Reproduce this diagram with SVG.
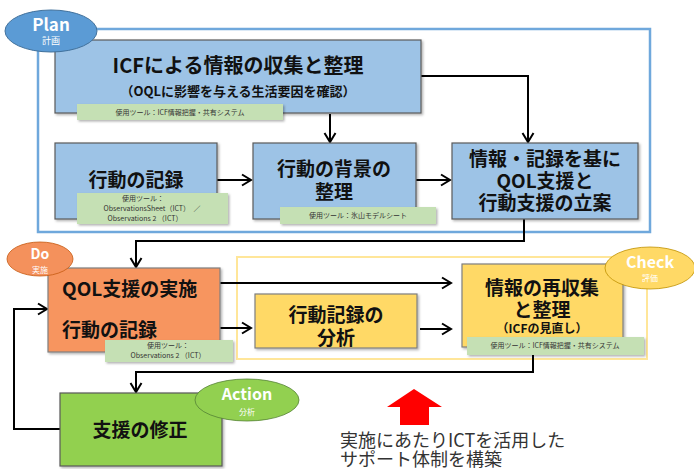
<svg xmlns="http://www.w3.org/2000/svg" width="694" height="469" viewBox="0 0 694 469">
<defs>
<marker id="ah" markerUnits="userSpaceOnUse" markerWidth="14" markerHeight="14" refX="11" refY="7" orient="auto">
<path d="M2,1.5 L11,7 L2,12.5" fill="none" stroke="#000" stroke-width="2"/>
</marker>
<filter id="sh" x="-10%" y="-20%" width="130%" height="160%">
<feDropShadow dx="1.5" dy="1.5" stdDeviation="1" flood-color="#000" flood-opacity="0.3"/>
</filter>
</defs>
<style>
text{font-family:"Noto Sans CJK JP","Noto Sans",sans-serif;dominant-baseline:central;text-anchor:middle;fill:#111}
.t{font-size:19px;font-weight:bold}
.s{font-size:13px;font-weight:bold}
.tool{font-size:7px;fill:#333}
.blue{fill:#9dc3e6;stroke:#5a5a5a;stroke-width:1.2}
.green{fill:#c5e0b4;filter:url(#sh)}
.orange{fill:#f7955f;stroke:#7f7f7f;stroke-width:1.2}
.yellow{fill:#ffd966;stroke:#7f7f7f;stroke-width:1.2}
.lime{fill:#92d050;stroke:#595959;stroke-width:1.2}
.conn path{fill:none;stroke:#000;stroke-width:2;marker-end:url(#ah)}
.lbl{fill:#fff;font-weight:bold}
.sub{fill:#fff;font-size:9px}
.note{text-anchor:start;font-size:18px;fill:#333}
</style>

<rect x="38" y="29" width="612" height="203" fill="none" stroke="#6fa8dc" stroke-width="2.5"/>
<rect x="237" y="257" width="410" height="102" fill="none" stroke="#ffe699" stroke-width="2"/>

<g id="connectors" class="conn">
<path d="M330,114 V142"/>
<path d="M421,76 H528 V142"/>
<path d="M217,180 H251"/>
<path d="M416,180 H450"/>
<path d="M524,219 V241 H136 V267"/>
<path d="M216,283 H451"/>
<path d="M165,328 H251"/>
<path d="M420,329 H451"/>
<path d="M533,355 V372 H136 V392"/>
<path d="M60,429 H14 V309 H47"/>
</g>

<g id="icf-collect">
<rect class="blue" x="55" y="40" width="366" height="73" filter="url(#sh)"/>
<text class="t" x="238" y="64" style="font-size:20px">ICFによる情報の収集と整理</text>
<text class="s" x="238" y="90">（OQLに影響を与える生活要因を確認）</text>
<rect class="green" x="77" y="104" width="206" height="16"/>
<text class="tool" x="180" y="112">使用ツール：ICF情報把握・共有システム</text>
</g>

<g id="behavior-record">
<rect class="blue" x="55" y="143" width="162" height="76" filter="url(#sh)"/>
<text class="t" x="136" y="178">行動の記録</text>
<rect class="green" x="77" y="193" width="151" height="31"/>
<text class="tool" x="143" y="198">使用ツール：</text>
<text class="tool" x="152" y="208">ObservationsSheet（ICT）　／</text>
<text class="tool" x="145" y="218">Observations 2 （ICT）</text>
</g>

<g id="behavior-background">
<rect class="blue" x="253" y="143" width="163" height="76" filter="url(#sh)"/>
<text class="t" x="334" y="167">行動の背景の</text>
<text class="t" x="334" y="190">整理</text>
<rect class="green" x="280" y="207" width="156" height="17"/>
<text class="tool" x="358" y="215">使用ツール：氷山モデルシート</text>
</g>

<g id="planning">
<rect class="blue" x="452" y="143" width="186" height="76" filter="url(#sh)"/>
<text class="t" x="545" y="157">情報・記録を基に</text>
<text class="t" x="545" y="179">QOL支援と</text>
<text class="t" x="545" y="201">行動支援の立案</text>
</g>

<g id="plan-badge">
<ellipse cx="51" cy="31" rx="46" ry="21" fill="#5b9bd5" stroke="#41719c" stroke-width="1"/>
<text class="lbl" x="51" y="23" style="font-size:17px">Plan</text>
<text class="sub" x="51" y="40">計画</text>
</g>

<g id="do-box">
<rect class="orange" x="48" y="268" width="172" height="84" filter="url(#sh)"/>
<text class="t" x="62" y="287" style="text-anchor:start">QOL支援の実施</text>
<text class="t" x="62" y="328" style="text-anchor:start">行動の記録</text>
<rect class="green" x="105" y="340" width="128" height="22"/>
<text class="tool" x="168" y="345">使用ツール：</text>
<text class="tool" x="168" y="355">Observations 2 （ICT）</text>
</g>

<g id="do-badge">
<ellipse cx="40" cy="259" rx="33" ry="17" fill="#f4915c" stroke="#c55a11" stroke-width="0.8"/>
<text class="lbl" x="40" y="253" style="font-size:14px">Do</text>
<text class="sub" x="40" y="269" style="font-size:8px">実施</text>
</g>

<g id="analysis">
<rect class="yellow" x="255" y="294" width="162" height="54" filter="url(#sh)"/>
<text class="t" x="336" y="313">行動記録の</text>
<text class="t" x="336" y="336">分析</text>
</g>

<g id="recollect">
<rect class="yellow" x="462" y="264" width="161" height="83" filter="url(#sh)"/>
<text class="t" x="542" y="286">情報の再収集</text>
<text class="t" x="542" y="308">と整理</text>
<text class="s" x="542" y="327" style="font-size:12px">（ICFの見直し）</text>
<rect class="green" x="467" y="337" width="177" height="18"/>
<text class="tool" x="555" y="345">使用ツール：ICF情報把握・共有システム</text>
</g>

<g id="check-badge">
<ellipse cx="650" cy="268" rx="45" ry="21" fill="#ffd966" stroke="#bf9000" stroke-width="0.8"/>
<text class="lbl" x="650" y="261" style="font-size:16px">Check</text>
<text class="sub" x="650" y="277" style="font-size:8px">評価</text>
</g>

<g id="revise">
<rect class="lime" x="60" y="393" width="162" height="73" filter="url(#sh)"/>
<text class="t" x="140" y="428">支援の修正</text>
</g>

<g id="action-badge">
<ellipse cx="247" cy="400" rx="52" ry="21" fill="#92d050" stroke="#548235" stroke-width="0.8"/>
<text class="lbl" x="247" y="393" style="font-size:16px">Action</text>
<text class="sub" x="247" y="411" style="font-size:8px">分析</text>
</g>

<g id="ict-note">
<path d="M400,425 V407 H387 L414,389 L442,407 H429 V425 Z" fill="#ff0000"/>
<text class="note" x="340" y="439">実施にあたりICTを活用した</text>
<text class="note" x="340" y="458">サポート体制を構築</text>
</g>
</svg>
